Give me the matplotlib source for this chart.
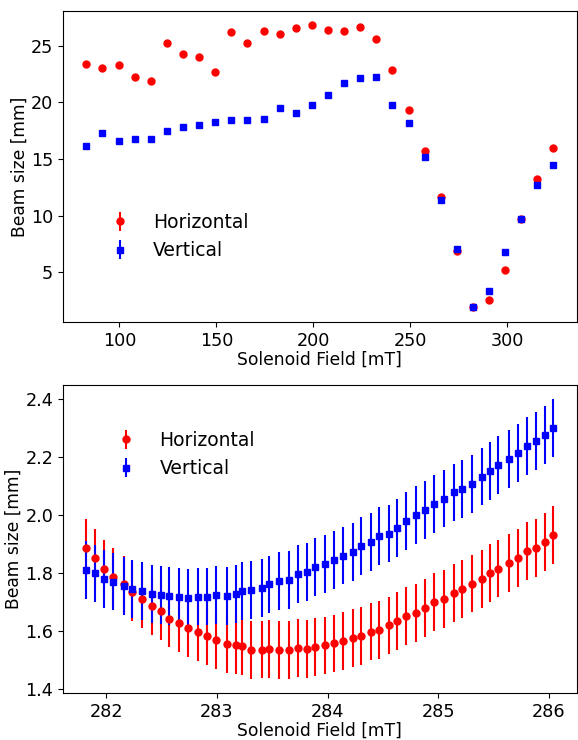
import matplotlib
matplotlib.use("Agg")
import matplotlib.pyplot as plt

# coarse solenoid scan
scan_field = [83.0, 91.3, 99.6, 107.9, 116.2, 124.5, 132.8, 141.1, 149.4, 157.7,
              166.0, 174.3, 182.6, 190.9, 199.2, 207.5, 215.8, 224.1, 232.4, 240.7,
              249.0, 257.3, 265.6, 273.9, 282.2, 290.5, 298.8, 307.1, 315.4, 323.7]
scan_hor = [23.4, 23.0, 23.26, 22.2, 21.88, 25.2, 24.27, 24.03, 22.68, 26.2,
            25.2, 26.32, 26.0, 26.59, 26.8, 26.41, 26.3, 26.65, 25.56, 22.82,
            19.35, 15.67, 11.65, 6.85, 1.9, 2.55, 5.23, 9.7, 13.26, 15.94]
scan_ver = [16.17, 17.29, 16.56, 16.76, 16.79, 17.47, 17.79, 18.03, 18.26, 18.47,
            18.41, 18.53, 19.47, 19.03, 19.77, 20.68, 21.73, 22.15, 22.24, 19.79,
            18.14, 15.14, 11.41, 7.06, 1.94, 3.38, 6.76, 9.73, 12.67, 14.44]
scan_err = 0.05

# fine scan around the focus
fine_field = [281.82, 281.90, 281.98, 282.06, 282.16, 282.23, 282.32, 282.41, 282.49, 282.57,
              282.66, 282.74, 282.83, 282.91, 282.99, 283.09, 283.17, 283.23, 283.31, 283.41,
              283.47, 283.56, 283.65, 283.73, 283.81, 283.89, 283.98, 284.06, 284.14, 284.23,
              284.30, 284.39, 284.46, 284.55, 284.63, 284.71, 284.80, 284.88, 284.96, 285.05,
              285.14, 285.21, 285.30, 285.39, 285.47, 285.54, 285.64, 285.72, 285.80, 285.88,
              285.96, 286.04]
fine_hor = [1.885, 1.852, 1.815, 1.786, 1.760, 1.733, 1.708, 1.684, 1.667, 1.642,
            1.625, 1.608, 1.595, 1.580, 1.568, 1.554, 1.550, 1.546, 1.534, 1.535,
            1.538, 1.532, 1.532, 1.540, 1.538, 1.545, 1.549, 1.556, 1.563, 1.575,
            1.582, 1.597, 1.603, 1.618, 1.633, 1.650, 1.662, 1.678, 1.698, 1.709,
            1.730, 1.743, 1.763, 1.778, 1.799, 1.815, 1.833, 1.850, 1.875, 1.887,
            1.907, 1.930]
fine_ver = [1.810, 1.798, 1.779, 1.770, 1.754, 1.745, 1.736, 1.726, 1.722, 1.721,
            1.716, 1.714, 1.718, 1.718, 1.723, 1.721, 1.727, 1.736, 1.740, 1.748,
            1.760, 1.771, 1.776, 1.797, 1.802, 1.819, 1.831, 1.845, 1.860, 1.873,
            1.893, 1.906, 1.928, 1.936, 1.955, 1.979, 1.999, 2.016, 2.038, 2.057,
            2.078, 2.090, 2.108, 2.133, 2.153, 2.174, 2.193, 2.215, 2.239, 2.256,
            2.277, 2.301]
fine_err = 0.1

fig = plt.figure(figsize=(5.78, 7.4), dpi=100)
ax1 = fig.add_axes([0.109, 0.5649, 0.889, 0.4207])
ax2 = fig.add_axes([0.109, 0.0631, 0.889, 0.4166])

ax1.errorbar(scan_field, scan_hor, yerr=scan_err, fmt="o", color="red", ms=5, label="Horizontal")
ax1.errorbar(scan_field, scan_ver, yerr=scan_err, fmt="s", color="blue", ms=5, label="Vertical")
ax1.legend(loc="center left", bbox_to_anchor=(0.059, 0.274), frameon=False,
           fontsize=13.5, borderaxespad=0)

ax2.errorbar(fine_field, fine_hor, yerr=fine_err, fmt="o", color="red", ms=5, label="Horizontal")
ax2.errorbar(fine_field, fine_ver, yerr=fine_err, fmt="s", color="blue", ms=5, label="Vertical")
ax2.legend(loc="center left", bbox_to_anchor=(0.071, 0.774), frameon=False,
           fontsize=13.5, borderaxespad=0)

for ax in (ax1, ax2):
    ax.set_xlabel("Solenoid Field [mT]", fontsize=12.3, labelpad=0.5)
    ax.set_ylabel("Beam size [mm]", fontsize=12.3, labelpad=2)
    ax.tick_params(labelsize=12.7)

fig.savefig("out.png", dpi=100)
